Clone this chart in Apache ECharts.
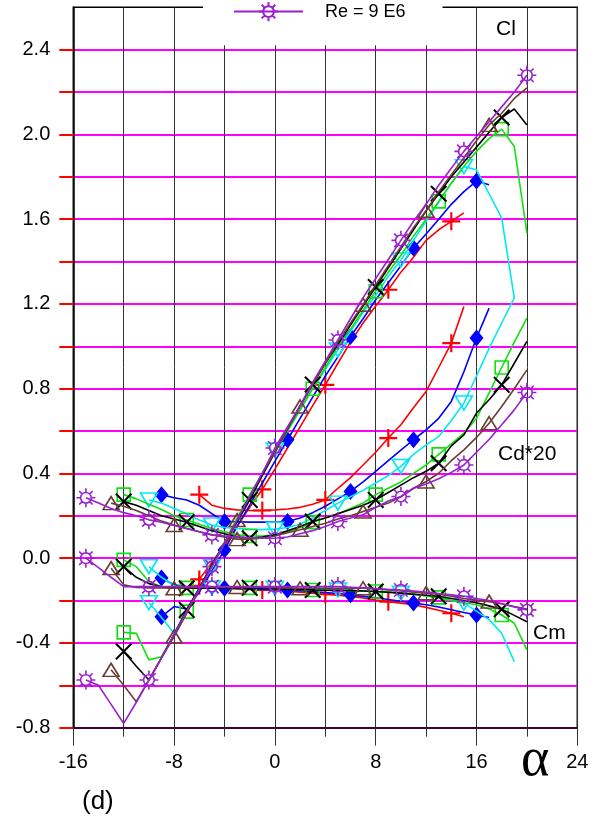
<!DOCTYPE html>
<html>
<head>
<meta charset="utf-8">
<script src="https://cdn.jsdelivr.net/npm/echarts@6/dist/echarts.min.js"></script>
<style>
html,body{margin:0;padding:0;background:#fff;}
#chart{width:605px;height:822px;}
</style>
</head>
<body>
<div id="chart"></div>
<script>
// ---------- tick labels ----------
const X_MIN = -16, X_MAX = 24, X_STEP = 8;
const Y_MIN = -0.8, Y_MAX = 2.6;
const Y_LABELS = [-0.8, -0.4, 0, 0.4, 0.8, 1.2, 1.6, 2.0, 2.4];
const Y_TICKS = [-0.8, -0.6, -0.4, -0.2, 0, 0.2, 0.4, 0.6, 0.8, 1.0, 1.2, 1.4, 1.6, 1.8, 2.0, 2.2, 2.4];
const LEGEND_NAME = 'Re = 9 E6';

// ---------- red (+) ----------
const RED_A   = [-6,-5,-4,-3,-2,-1,0,1,2,3,4,5,6,7,8,9,10,11,12,13,14,15];
const RED_CL  = [-0.10,-0.02,0.06,0.15,0.24,0.325,0.42,0.52,0.62,0.72,0.818,0.92,1.02,1.11,1.19,1.267,1.35,1.42,1.50,1.55,1.59,1.63];
const RED_CD  = [0.30,0.25,0.235,0.228,0.225,0.225,0.228,0.232,0.24,0.255,0.275,0.33,0.38,0.44,0.50,0.567,0.63,0.71,0.787,0.90,1.015,1.188];
const RED_CM  = [-0.13,-0.135,-0.14,-0.145,-0.148,-0.15,-0.152,-0.155,-0.16,-0.165,-0.17,-0.175,-0.18,-0.188,-0.197,-0.205,-0.212,-0.22,-0.232,-0.246,-0.26,-0.276];
const RED_MARK = [-6,-1,4,9,14];

// ---------- blue (diamond) ----------
const BLUE_A  = [-9,-8,-7,-6,-5,-4,-3,-2,-1,0,1,2,3,4,5,6,7,8,9,10,11,12,13,14,15,16,17];
const BLUE_CL = [-0.276,-0.228,-0.24,-0.16,-0.06,0.039,0.15,0.25,0.355,0.457,0.559,0.66,0.76,0.86,0.95,1.046,1.13,1.22,1.30,1.38,1.464,1.53,1.60,1.67,1.73,1.78,1.763];
const BLUE_CD = [0.30,0.285,0.275,0.25,0.21,0.173,0.172,0.17,0.17,0.17,0.173,0.19,0.215,0.245,0.28,0.315,0.36,0.41,0.46,0.51,0.559,0.606,0.66,0.74,0.88,1.039,1.18];
const BLUE_CM = [-0.094,-0.125,-0.135,-0.14,-0.142,-0.142,-0.143,-0.145,-0.147,-0.148,-0.15,-0.154,-0.158,-0.162,-0.167,-0.173,-0.18,-0.187,-0.195,-0.203,-0.212,-0.22,-0.23,-0.243,-0.256,-0.268,-0.28];
const BLUE_MARK = [-9,-4,1,6,11,16];

// ---------- cyan (down triangle) ----------
const CYAN_A  = [-10,-9,-8,-7,-6,-5,-4,-3,-2,-1,0,1,2,3,4,5,6,7,8,9,10,11,12,13,14,15,16,17,18,19];
const CYAN_CL = [-0.21,-0.28,-0.354,-0.25,-0.145,-0.04,0.07,0.18,0.29,0.40,0.511,0.605,0.70,0.80,0.89,0.983,1.07,1.16,1.24,1.33,1.407,1.50,1.59,1.68,1.77,1.848,1.833,1.72,1.605,1.228];
const CYAN_CD = [0.275,0.26,0.235,0.21,0.18,0.157,0.145,0.14,0.137,0.135,0.137,0.145,0.16,0.19,0.225,0.26,0.29,0.32,0.355,0.39,0.433,0.49,0.535,0.574,0.65,0.732,0.86,0.99,1.11,1.228];
const CYAN_CM = [-0.04,-0.09,-0.13,-0.138,-0.14,-0.14,-0.14,-0.141,-0.141,-0.142,-0.142,-0.143,-0.145,-0.147,-0.148,-0.15,-0.152,-0.155,-0.158,-0.161,-0.165,-0.17,-0.178,-0.188,-0.20,-0.212,-0.25,-0.29,-0.354,-0.488];
const CYAN_MARK = [-10,-5,0,5,10,15];

// ---------- green (square) ----------
const GREEN_A  = [-12,-11,-10,-9,-8,-7,-6,-5,-4,-3,-2,-1,0,1,2,3,4,5,6,7,8,9,10,11,12,13,14,15,16,17,18,19,20];
const GREEN_CL = [-0.35,-0.355,-0.48,-0.465,-0.36,-0.252,-0.145,-0.035,0.075,0.19,0.30,0.40,0.50,0.60,0.70,0.80,0.90,1.00,1.08,1.17,1.26,1.35,1.43,1.52,1.60,1.684,1.77,1.85,1.92,1.98,2.025,1.943,1.535];
const GREEN_CD = [0.30,0.28,0.255,0.23,0.20,0.18,0.16,0.14,0.125,0.11,0.105,0.105,0.11,0.125,0.145,0.17,0.19,0.21,0.235,0.26,0.30,0.33,0.36,0.40,0.44,0.49,0.54,0.59,0.66,0.78,0.90,1.02,1.133];
const GREEN_CM = [-0.008,-0.04,-0.11,-0.135,-0.14,-0.14,-0.14,-0.14,-0.14,-0.14,-0.14,-0.142,-0.143,-0.145,-0.147,-0.15,-0.151,-0.152,-0.153,-0.155,-0.157,-0.16,-0.165,-0.17,-0.177,-0.185,-0.20,-0.21,-0.22,-0.24,-0.268,-0.307,-0.433];
const GREEN_MARK = [-12,-7,-2,3,8,13,18];

// ---------- black (x) ----------
const BLACK_A  = [-12,-11,-10,-9,-8,-7,-6,-5,-4,-3,-2,-1,0,1,2,3,4,5,6,7,8,9,10,11,12,13,14,15,16,17,18,19,20];
const BLACK_CL = [-0.44,-0.51,-0.575,-0.47,-0.36,-0.244,-0.14,-0.03,0.07,0.17,0.275,0.39,0.50,0.61,0.72,0.82,0.92,1.01,1.10,1.19,1.28,1.37,1.46,1.55,1.64,1.72,1.80,1.87,1.94,2.01,2.08,2.12,2.045];
const BLACK_CD = [0.267,0.25,0.225,0.20,0.185,0.17,0.15,0.13,0.115,0.10,0.094,0.10,0.11,0.13,0.15,0.173,0.19,0.21,0.23,0.25,0.275,0.31,0.345,0.38,0.41,0.448,0.53,0.582,0.685,0.748,0.818,0.92,1.023];
const BLACK_CM = [-0.04,-0.09,-0.12,-0.135,-0.14,-0.142,-0.142,-0.142,-0.141,-0.14,-0.14,-0.142,-0.144,-0.146,-0.148,-0.15,-0.151,-0.152,-0.153,-0.155,-0.157,-0.161,-0.165,-0.17,-0.175,-0.18,-0.19,-0.20,-0.21,-0.225,-0.241,-0.27,-0.30];
const BLACK_MARK = [-12,-7,-2,3,8,13,18];

// ---------- brown (triangle) ----------
const BROWN_A  = [-13,-12,-11,-10,-9,-8,-7,-6,-5,-4,-3,-2,-1,0,1,2,3,4,5,6,7,8,9,10,11,12,13,14,15,16,17,18,19,20];
const BROWN_CL = [-0.527,-0.60,-0.677,-0.575,-0.47,-0.37,-0.26,-0.15,-0.04,0.07,0.18,0.29,0.40,0.50,0.61,0.716,0.82,0.92,1.02,1.11,1.196,1.29,1.38,1.47,1.56,1.64,1.73,1.81,1.89,1.97,2.045,2.10,2.17,2.22];
const BROWN_CD = [0.26,0.245,0.225,0.20,0.175,0.157,0.14,0.125,0.11,0.10,0.09,0.09,0.095,0.105,0.12,0.134,0.15,0.165,0.185,0.20,0.22,0.24,0.26,0.29,0.33,0.362,0.401,0.46,0.511,0.57,0.637,0.716,0.80,0.889];
const BROWN_CM = [-0.047,-0.126,-0.138,-0.14,-0.14,-0.142,-0.14,-0.138,-0.137,-0.136,-0.136,-0.137,-0.138,-0.139,-0.14,-0.142,-0.142,-0.142,-0.142,-0.142,-0.142,-0.145,-0.15,-0.155,-0.16,-0.165,-0.17,-0.18,-0.19,-0.198,-0.205,-0.215,-0.228,-0.24];
const BROWN_MARK = [-13,-8,-3,2,7,12,17];

// ---------- purple (sun) Re = 9 E6 ----------
const PURPLE_A  = [-15,-14,-13,-12,-11,-10,-9,-8,-7,-6,-5,-4,-3,-2,-1,0,1,2,3,4,5,6,7,8,9,10,11,12,13,14,15,16,17,18,19,20];
const PURPLE_CL = [-0.575,-0.60,-0.69,-0.78,-0.68,-0.575,-0.47,-0.36,-0.25,-0.145,-0.04,0.07,0.18,0.29,0.40,0.52,0.62,0.72,0.83,0.93,1.03,1.13,1.23,1.32,1.41,1.50,1.59,1.67,1.76,1.84,1.92,1.99,2.06,2.13,2.20,2.279];
const PURPLE_CD = [0.285,0.26,0.235,0.215,0.20,0.181,0.17,0.155,0.14,0.125,0.11,0.105,0.10,0.097,0.095,0.094,0.10,0.115,0.13,0.15,0.173,0.19,0.205,0.24,0.27,0.291,0.33,0.35,0.375,0.405,0.44,0.50,0.56,0.63,0.70,0.782];
const PURPLE_CM = [0.0,-0.045,-0.09,-0.134,-0.134,-0.134,-0.134,-0.134,-0.134,-0.134,-0.134,-0.134,-0.134,-0.134,-0.134,-0.134,-0.134,-0.134,-0.134,-0.134,-0.134,-0.137,-0.14,-0.143,-0.147,-0.15,-0.155,-0.16,-0.167,-0.173,-0.18,-0.19,-0.20,-0.215,-0.23,-0.244];
const PURPLE_MARK = [-15,-10,-5,0,5,10,15,20];

// ---------- styling ----------
const FONT = '"Liberation Sans", Arial, sans-serif';
const GRID_C = '#333';
const SYM_PLUS  = 'path://M44,0 H56 V44 H100 V56 H56 V100 H44 V56 H0 V44 H44 Z';
const SYM_CROSS = 'path://M0,8.5 L8.5,0 L50,41.5 L91.5,0 L100,8.5 L58.5,50 L100,91.5 L91.5,100 L50,58.5 L8.5,100 L0,91.5 L41.5,50 Z';
const SYM_DOWN  = 'path://M0,0 L100,0 L50,86 Z';
const SYM_SUN   = 'path://M78,50 A28,28 0 1,1 22,50 A28,28 0 1,1 78,50 Z M50,0 L50,22 M50,78 L50,100 M0,50 L22,50 M78,50 L100,50 M14.6,14.6 L30.2,30.2 M85.4,14.6 L69.8,30.2 M14.6,85.4 L30.2,69.8 M85.4,85.4 L69.8,69.8';

const SETS = [
  {name:'set 1', color:'#ff0000', A:RED_A, CL:RED_CL, CD:RED_CD, CM:RED_CM, M:RED_MARK, sym:SYM_PLUS, size:18, fill:true},
  {name:'set 2', color:'#0000ff', A:BLUE_A, CL:BLUE_CL, CD:BLUE_CD, CM:BLUE_CM, M:BLUE_MARK, sym:'diamond', size:[14,17], fill:true},
  {name:'set 3', color:'#00e8f0', A:CYAN_A, CL:CYAN_CL, CD:CYAN_CD, CM:CYAN_CM, M:CYAN_MARK, sym:SYM_DOWN, size:[17,14], fill:false},
  {name:'set 4', color:'#10e010', A:GREEN_A, CL:GREEN_CL, CD:GREEN_CD, CM:GREEN_CM, M:GREEN_MARK, sym:'rect', size:13, fill:false},
  {name:'set 5', color:'#000000', A:BLACK_A, CL:BLACK_CL, CD:BLACK_CD, CM:BLACK_CM, M:BLACK_MARK, sym:SYM_CROSS, size:17, fill:true},
  {name:'set 6', color:'#6b3d33', A:BROWN_A, CL:BROWN_CL, CD:BROWN_CD, CM:BROWN_CM, M:BROWN_MARK, sym:'triangle', size:[16,13], fill:false},
  {name:LEGEND_NAME, color:'#9a1fd0', A:PURPLE_A, CL:PURPLE_CL, CD:PURPLE_CD, CM:PURPLE_CM, M:PURPLE_MARK, sym:SYM_SUN, size:19, fill:false}
];

function buildData(alphas, vals, marks) {
  return alphas.map((a, i) => marks.indexOf(a) >= 0 ? [a, vals[i]] : {value:[a, vals[i]], symbol:'none'});
}

const series = [];
SETS.forEach((s, k) => {
  ['CL','CD','CM'].forEach(key => {
    series.push({
      type:'line', name:s.name,
      data: buildData(s.A, s[key], s.M),
      symbol:s.sym, symbolSize:s.size, showAllSymbol:true,
      lineStyle:{color:s.color, width:1.6},
      itemStyle: s.fill ? {color:s.color, borderWidth:0}
                        : {color:'rgba(255,255,255,0)', borderColor:s.color, borderWidth:1.6},
      emphasis:{disabled:true}, silent:true, animation:false,
      z: 2 + k
    });
  });
});

const chart = echarts.init(document.getElementById('chart'), null, {renderer:'canvas'});
chart.setOption({
  animation:false,
  backgroundColor:'#fff',
  grid:{left:73.3, right:27.7, top:7.3, bottom:94.3, show:true, borderColor:'#000', borderWidth:1.5,
        containLabel:false, outerBoundsMode:'none'},
  legend:{
    data:[LEGEND_NAME], left:203, top:1, orient:'horizontal',
    itemWidth:69, itemHeight:24, backgroundColor:'#fff',
    padding:[0, 37, 23, 30], selectedMode:false, z:10,
    textStyle:{fontFamily:FONT, fontSize:18, color:'#000', padding:[0,0,0,17]}
  },
  xAxis:{
    type:'value', min:X_MIN, max:X_MAX, interval:X_STEP,
    axisLine:{show:true, onZero:false, lineStyle:{color:'#000', width:1.5}},
    axisTick:{show:true, length:18, lineStyle:{color:GRID_C, width:1}},
    minorTick:{show:true, splitNumber:2, length:9, lineStyle:{color:GRID_C, width:1}},
    splitLine:{show:true, lineStyle:{color:GRID_C, width:1}},
    minorSplitLine:{show:true, lineStyle:{color:GRID_C, width:1}},
    axisLabel:{margin:25, fontSize:20, color:'#000', fontFamily:FONT, formatter:v => String(v)}
  },
  yAxis:{
    type:'value', min:Y_MIN, max:Y_MAX, interval:0.2, position:'left',
    axisLine:{show:true, onZero:false, lineStyle:{color:'#000', width:1.5}},
    axisTick:{show:true, length:14, customValues:Y_TICKS, lineStyle:{color:'#f00', width:2}},
    splitLine:{show:true, lineStyle:{color:'#f0f', width:2}},
    axisLabel:{customValues:Y_LABELS, margin:23, fontSize:20, color:'#000', fontFamily:FONT,
               formatter:v => Number(v).toFixed(1)}
  },
  graphic:[
    {type:'text', left:496, top:19, z:20, style:{text:'Cl', font:'21px ' + FONT, fill:'#000'}},
    {type:'text', left:498, top:444, z:20, style:{text:'Cd*20', font:'21px ' + FONT, fill:'#000'}},
    {type:'text', left:533, top:623, z:20, style:{text:'Cm', font:'21px ' + FONT, fill:'#000'}},
    {type:'text', left:82, top:789, z:20, style:{text:'(d)', font:'26px ' + FONT, fill:'#000'}},
    {type:'text', left:521, top:734, z:20, style:{text:'α', font:'54px "Liberation Serif", "Times New Roman", serif', fill:'#000'}}
  ],
  series: series
});
</script>
</body>
</html>
